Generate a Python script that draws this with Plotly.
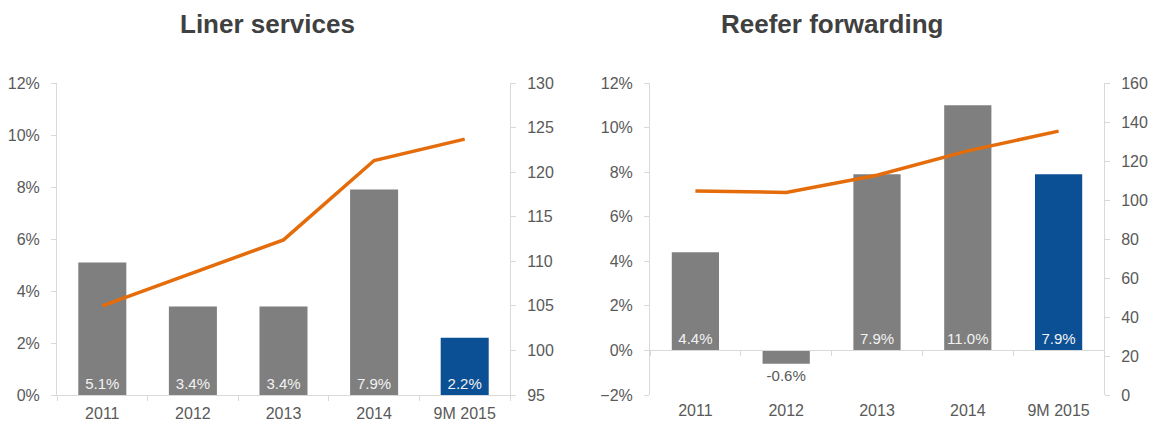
import plotly.graph_objects as go

categories = ["2011", "2012", "2013", "2014", "9M 2015"]
liner_growth = [5.1, 3.4, 3.4, 7.9, 2.2]
liner_index = [105.0, 108.7, 112.4, 121.3, 123.7]
reefer_growth = [4.4, -0.6, 7.9, 11.0, 7.9]
reefer_index = [104.6, 103.9, 112.7, 125.2, 135.3]
bar_colors = ["#7f7f7f", "#7f7f7f", "#7f7f7f", "#7f7f7f", "#0b4f95"]
titles = ["Liner services", "Reefer forwarding"]

W, H = 1153, 423
FONT = "Liberation Sans, Arial, sans-serif"
TICK = dict(family=FONT, size=16, color="#595959")
AX = "#d9d9d9"
ORANGE = "#e46c0a"

def px_x(v):
    return v / W

def px_y(v):
    return 1 - v / H

ydom = [px_y(395), px_y(83)]
xdom1 = [px_x(57), px_x(510)]
xdom2 = [px_x(650), px_x(1104)]

def labels(vals):
    return [f"{v:.1f}%" for v in vals]

def positions(vals):
    return ["inside" if v >= 0 else "outside" for v in vals]

def tcolors(vals):
    return ["#f2f2f2" if v >= 0 else "#595959" for v in vals]

fig = go.Figure()

# Left panel
fig.add_trace(go.Bar(
    x=categories, y=liner_growth, marker=dict(color=bar_colors, line=dict(width=0)),
    width=0.53, text=labels(liner_growth), textposition=positions(liner_growth),
    insidetextanchor="start", constraintext="none", textangle=0,
    textfont=dict(family=FONT, size=15, color=tcolors(liner_growth)),
    outsidetextfont=dict(family=FONT, size=15, color="#595959"),
    xaxis="x", yaxis="y", showlegend=False, cliponaxis=False, hoverinfo="skip"))
fig.add_trace(go.Scatter(
    x=categories, y=liner_index, mode="lines",
    line=dict(color=ORANGE, width=3.5), xaxis="x", yaxis="y2", showlegend=False,
    hoverinfo="skip"))

# Right panel
fig.add_trace(go.Bar(
    x=categories, y=reefer_growth, marker=dict(color=bar_colors, line=dict(width=0)),
    width=0.52, text=labels(reefer_growth), textposition=positions(reefer_growth),
    insidetextanchor="start", constraintext="none", textangle=0,
    textfont=dict(family=FONT, size=15, color=tcolors(reefer_growth)),
    outsidetextfont=dict(family=FONT, size=15, color="#595959"),
    xaxis="x2", yaxis="y3", showlegend=False, cliponaxis=False, hoverinfo="skip"))
fig.add_trace(go.Scatter(
    x=categories, y=reefer_index, mode="lines",
    line=dict(color=ORANGE, width=3.5), xaxis="x3", yaxis="y4", showlegend=False,
    hoverinfo="skip"))

yaxis_common = dict(showgrid=False, zeroline=False, showline=True, linecolor=AX, linewidth=1,
                    ticks="outside", ticklen=5, tickcolor=AX, tickfont=TICK,
                    ticklabelstandoff=8, fixedrange=True, automargin=False)

zero_frac = ydom[0] + (ydom[1] - ydom[0]) * (2 / 14)

fig.update_layout(
    width=W, height=H, margin=dict(l=0, r=0, t=0, b=0, autoexpand=False),
    paper_bgcolor="white", plot_bgcolor="white", bargap=0.47,
    font=dict(family=FONT, color="#595959"),
    xaxis=dict(domain=xdom1, anchor="y", type="category", range=[-0.5, 4.5],
               showgrid=False, zeroline=False, showline=True, linecolor=AX, linewidth=1,
               ticks="outside", tickson="boundaries", ticklen=5, tickcolor=AX,
               tickfont=TICK, ticklabelstandoff=4, automargin=False, fixedrange=True),
    yaxis=dict(domain=ydom, anchor="x", range=[0, 12], dtick=2, ticksuffix="%", **yaxis_common),
    yaxis2=dict(overlaying="y", side="right", anchor="x", range=[95, 130], dtick=5, **yaxis_common),
    xaxis2=dict(domain=xdom2, anchor="y3", type="category", range=[-0.5, 4.5],
                showgrid=False, zeroline=False, showline=False, ticks="",
                tickfont=TICK, ticklabelstandoff=4, automargin=False, fixedrange=True),
    xaxis3=dict(domain=xdom2, overlaying="x2", anchor="free", position=zero_frac,
                type="category", range=[-0.5, 4.5], showgrid=False, zeroline=False,
                showline=True, linecolor=AX, linewidth=1, ticks="outside",
                tickson="boundaries", ticklen=5, tickcolor=AX, showticklabels=False,
                automargin=False, fixedrange=True),
    yaxis3=dict(domain=ydom, anchor="x2", range=[-2, 12], dtick=2, ticksuffix="%", **yaxis_common),
    yaxis4=dict(overlaying="y3", side="right", anchor="x2", range=[0, 160], dtick=20, **yaxis_common),
)

for title, cx in zip(titles, [267, 832]):
    fig.add_annotation(text=f"<b>{title}</b>", xref="paper", yref="paper",
                       x=px_x(cx), y=px_y(24), xanchor="center", yanchor="middle",
                       showarrow=False, font=dict(family=FONT, size=26, color="#404040"))

fig.write_html(
    "out.html",
    config={"displayModeBar": False, "staticPlot": True},
    post_script="document.body.style.margin='0';document.body.style.overflow='hidden';",
)
